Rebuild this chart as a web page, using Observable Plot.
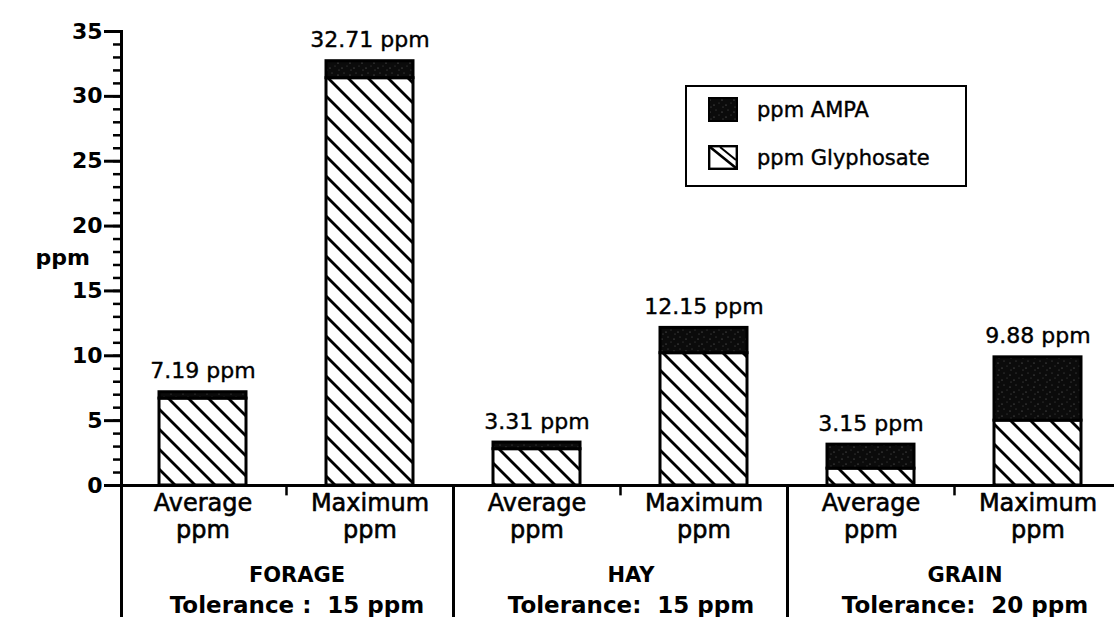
<!DOCTYPE html>
<html>
<head>
<meta charset="utf-8">
<script src="https://cdn.jsdelivr.net/npm/d3@7"></script>
<script src="https://cdn.jsdelivr.net/npm/@observablehq/plot@0.6"></script>
<style>
  html, body { margin: 0; padding: 0; background: #fff; }
  #wrap { position: relative; width: 1114px; height: 617px; overflow: hidden; font-family: "DejaVu Sans", sans-serif; }
  #wrap svg text { white-space: pre; }
  #legend { position: absolute; left: 685px; top: 85px; width: 278px; height: 98px; border: 2.5px solid #000; background: #fff; }
  #legend .sw { position: absolute; left: 21px; width: 30px; height: 25px; }
  #legend .lab { position: absolute; left: 70px; font-size: 21px; line-height: 25px; color: #000; -webkit-text-stroke: 0.4px #000; }
</style>
</head>
<body>
<div id="wrap">
  <svg width="0" height="0" style="position:absolute">
    <defs>
      <pattern id="hatch" patternUnits="userSpaceOnUse" width="14.142" height="14.142" patternTransform="rotate(-45)">
        <rect width="14.142" height="14.142" fill="#fff"></rect>
        <line x1="7.07" y1="-1" x2="7.07" y2="15.2" stroke="#000" stroke-width="2.8"></line>
      </pattern>
      <pattern id="stipple" patternUnits="userSpaceOnUse" width="12" height="12">
        <rect width="12" height="12" fill="#0b0b0b"></rect>
        <circle cx="2" cy="3" r="0.6" fill="#777"></circle>
        <circle cx="8" cy="1" r="0.5" fill="#666"></circle>
        <circle cx="6" cy="8" r="0.6" fill="#777"></circle>
        <circle cx="11" cy="6" r="0.5" fill="#555"></circle>
        <circle cx="3" cy="10" r="0.5" fill="#666"></circle>
      </pattern>
    </defs>
  </svg>
  <div id="chart"></div>
  <div id="legend">
    <svg class="sw" style="top:10px" viewBox="0 0 30 25"><rect x="1" y="1" width="28" height="23" fill="url(#stipple)" stroke="#000" stroke-width="2"></rect></svg>
    <div class="lab" style="top:11px">ppm AMPA</div>
    <svg class="sw" style="top:58px" viewBox="0 0 30 25"><rect x="1.2" y="1.2" width="27.6" height="22.6" fill="#fff" stroke="#000" stroke-width="2.4"></rect><path d="M2,2L28,23" stroke="#000" stroke-width="2.6"></path><path d="M12,2L28,15" stroke="#000" stroke-width="2"></path></svg>
    <div class="lab" style="top:59px">ppm Glyphosate</div>
  </div>
</div>
<script>
// ---- data ----
const categories = ["FORAGE", "HAY", "GRAIN"];
const stats = ["Average", "Maximum"];
const toleranceLabels = ["Tolerance :  15 ppm", "Tolerance:  15 ppm", "Tolerance:  20 ppm"];
// order: FORAGE Avg, FORAGE Max, HAY Avg, HAY Max, GRAIN Avg, GRAIN Max
const totals     = [7.19, 32.71, 3.31, 12.15, 3.15, 9.88];
const glyphosate = [6.70, 31.40, 2.80, 10.20, 1.30, 5.00];
const ampa       = [0.49, 1.31, 0.51, 1.95, 1.85, 4.88];
const majorTicks = [0, 5, 10, 15, 20, 25, 30, 35];
const minorTicks = d3.range(0, 36, 1);
const seriesNames = ["ppm Glyphosate", "ppm AMPA"];
const seriesFills = ["url(#hatch)", "url(#stipple)"];

// ---- build tables ----
const bars = [];
categories.forEach((c, i) => stats.forEach((s, j) => {
  const k = i * 2 + j;
  bars.push({key: `${c}|${s}`, cat: c, stat: s, total: totals[k], glyph: glyphosate[k], ampa: ampa[k]});
}));
const rows = [];
bars.forEach(b => {
  rows.push({key: b.key, series: seriesNames[0], value: b.glyph, fill: seriesFills[0]});
  rows.push({key: b.key, series: seriesNames[1], value: b.ampa, fill: seriesFills[1]});
});
const groups = categories.map((c, i) => ({avg: `${c}|Average`, max: `${c}|Maximum`, name: c, tol: toleranceLabels[i]}));

const thick = {fill: "#000", stroke: "#000", strokeWidth: 0.6};

const chart = Plot.plot({
  width: 1114,
  height: 617,
  marginLeft: 121,
  marginRight: 0,
  marginTop: 31,
  marginBottom: 0,
  style: {fontFamily: "DejaVu Sans, sans-serif", fontSize: "22px", color: "#000", background: "transparent", overflow: "visible"},
  x: {type: "band", domain: bars.map(d => d.key), range: [118.5, 1120.5], paddingInner: 0.48, paddingOuter: 0.24, axis: null},
  y: {domain: [0, 35], range: [485, 31], axis: null},
  color: {type: "identity"},
  marks: [
    Plot.frame({anchor: "left", strokeWidth: 3}),
    Plot.axisY(minorTicks, {tickSize: 8, text: null, label: null, strokeWidth: 2.5}),
    Plot.axisY(majorTicks, {tickSize: 17, tickPadding: 2, label: null, strokeWidth: 3, fontSize: 22, fontWeight: "bold"}),
    Plot.barY(rows, {x: "key", y: "value", fill: "fill", stroke: "#000", strokeWidth: 3}),
    Plot.ruleY([0], {strokeWidth: 3}),
    Plot.ruleX(groups.slice(0, 2), {x: "max", dx: 83.5, y1: 0, y2: -10.6, strokeWidth: 3}),
    Plot.ruleX(groups, {x: "avg", dx: 83.5, y1: 0, y2: -0.8, strokeWidth: 2.5}),
    Plot.text(bars, {x: "key", y: "total", text: d => `${d.total} ppm`, dy: -21, fontSize: 22, ...thick, strokeWidth: 0.4}),
    Plot.text(bars, {x: "key", y: 0, text: "stat", dy: 18, fontSize: 24, ...thick}),
    Plot.text(bars, {x: "key", y: 0, text: () => "ppm", dy: 45, fontSize: 24, ...thick}),
    Plot.text(groups, {x: "avg", y: 0, text: "name", dx: 94, dy: 90, fontSize: 21, fontWeight: "bold", letterSpacing: "1.5px"}),
    Plot.text(groups, {x: "avg", y: 0, text: "tol", dx: 94, dy: 120, fontSize: 23, fontWeight: "bold", letterSpacing: "0.8px"}),
    Plot.text(["ppm"], {frameAnchor: "top-left", dx: -86, dy: 218, fontSize: 22, fontWeight: "bold"})
  ]
});
document.getElementById("chart").appendChild(chart);
</script>
</body>
</html>
